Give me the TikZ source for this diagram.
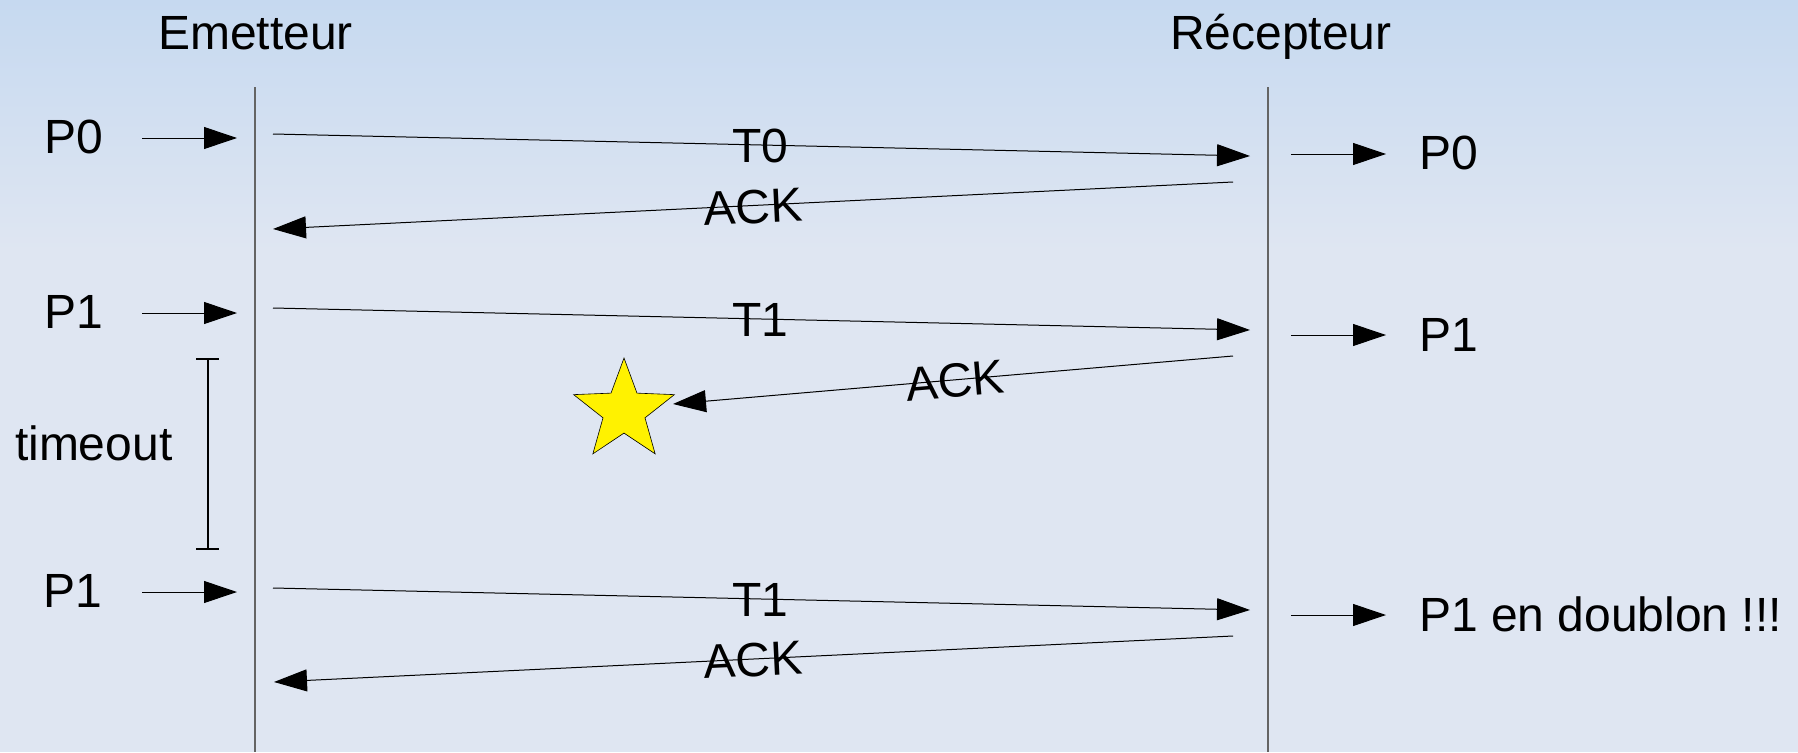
\documentclass[tikz,border=0pt]{standalone}
\usepackage{fontspec}
\setmainfont{Liberation Sans}
\usetikzlibrary{arrows.meta,shapes.geometric}
\definecolor{bgtop}{RGB}{198,217,240}
\definecolor{bgbot}{RGB}{223,230,242}
\definecolor{lifegray}{RGB}{100,100,100}
\tikzset{
  lbl/.style={inner sep=0pt, outer sep=0pt, anchor=base west, xshift=-3pt, font=\fontsize{48pt}{57pt}\selectfont},
  clbl/.style={inner sep=0pt, outer sep=0pt, anchor=center, font=\fontsize{48pt}{57pt}\selectfont},
  msg/.style={line width=1pt, -{Triangle[length=33pt,width=22pt]}},
  lifeline/.style={line width=1.5pt, draw=lifegray},
  timebar/.style={line width=2pt}
}
\begin{document}
\begin{tikzpicture}[x=1pt,y=-1pt]
\useasboundingbox (0,0) rectangle (1798,752);
% background
\fill[top color=bgtop, bottom color=bgbot] (0,0) rectangle (1798,252);
\fill[bgbot] (0,250) rectangle (1798,752);

% titles
\node[lbl] (em) at (161,50) {Emetteur};
\node[lbl] (rc) at (1173,50) {Récepteur};

% lifelines
\coordinate (emtop) at (255,87);
\coordinate (embot) at (255,752);
\coordinate (rctop) at (1268,87);
\coordinate (rcbot) at (1268,752);
\draw[lifeline] (emtop) -- (embot);
\draw[lifeline] (rctop) -- (rcbot);

% left packet labels
\node[lbl] (p0l) at (47,153) {P0};
\node[lbl] (p1l) at (47,328) {P1};
\node[lbl] (p1bl) at (46,607) {P1};
\node[lbl] (tmo) at (18,460) {timeout};

% right packet labels
\node[lbl] (p0r) at (1422,169) {P0};
\node[lbl] (p1r) at (1422,351) {P1};
\node[lbl] (p1br) at (1422,631) {P1 en doublon !!!};

% input arrows
\coordinate (a0s) at (142,138); \coordinate (a0e) at (237,138);
\coordinate (a1s) at (142,313); \coordinate (a1e) at (237,313);
\coordinate (a2s) at (142,592); \coordinate (a2e) at (237,592);
\draw[msg] (a0s) -- (a0e);
\draw[msg] (a1s) -- (a1e);
\draw[msg] (a2s) -- (a2e);

% output arrows
\coordinate (o0s) at (1291,154); \coordinate (o0e) at (1386,154);
\coordinate (o1s) at (1291,335); \coordinate (o1e) at (1386,335);
\coordinate (o2s) at (1291,615); \coordinate (o2e) at (1386,615);
\draw[msg] (o0s) -- (o0e);
\draw[msg] (o1s) -- (o1e);
\draw[msg] (o2s) -- (o2e);

% timeout bar
\coordinate (tbt) at (208,359);
\coordinate (tbb) at (208,549);
\draw[timebar] (tbt) -- (tbb);
\draw[timebar] ([xshift=-12pt]tbt) -- ([xshift=11pt]tbt);
\draw[timebar] ([xshift=-12pt]tbb) -- ([xshift=11pt]tbb);

% star (lost ACK)
\node[star, star points=5, star point ratio=2.4, minimum size=106pt, inner sep=0pt,
      draw=black, line width=0.6pt, fill=yellow] (lost) at (624,411) {};

% messages
\coordinate (t0s) at (273,134); \coordinate (t0e) at (1250,156);
\coordinate (k0s) at (1233,182); \coordinate (k0e) at (273,229);
\coordinate (t1s) at (273,308); \coordinate (t1e) at (1250,330);
\coordinate (k1s) at (1233,356); \coordinate (k1e) at (673,404);
\coordinate (t2s) at (273,588); \coordinate (t2e) at (1250,610);
\coordinate (k2s) at (1233,636); \coordinate (k2e) at (274,682);
\draw[msg] (t0s) -- (t0e);
\draw[msg] (k0s) -- (k0e);
\draw[msg] (t1s) -- (t1e);
\draw[msg] (k1s) -- (k1e);
\draw[msg] (t2s) -- (t2e);
\draw[msg] (k2s) -- (k2e);

% message labels
\node[lbl] (t0l) at (735,162) {T0};
\node[lbl] (t1l) at (735,336) {T1};
\node[lbl] (t2l) at (735,616) {T1};
\node[clbl, rotate=2.8] (k0l) at (753,207) {ACK};
\node[clbl, rotate=4.9] (k1l) at (955,381) {ACK};
\node[clbl, rotate=2.8] (k2l) at (753,660) {ACK};
\end{tikzpicture}
\end{document}
